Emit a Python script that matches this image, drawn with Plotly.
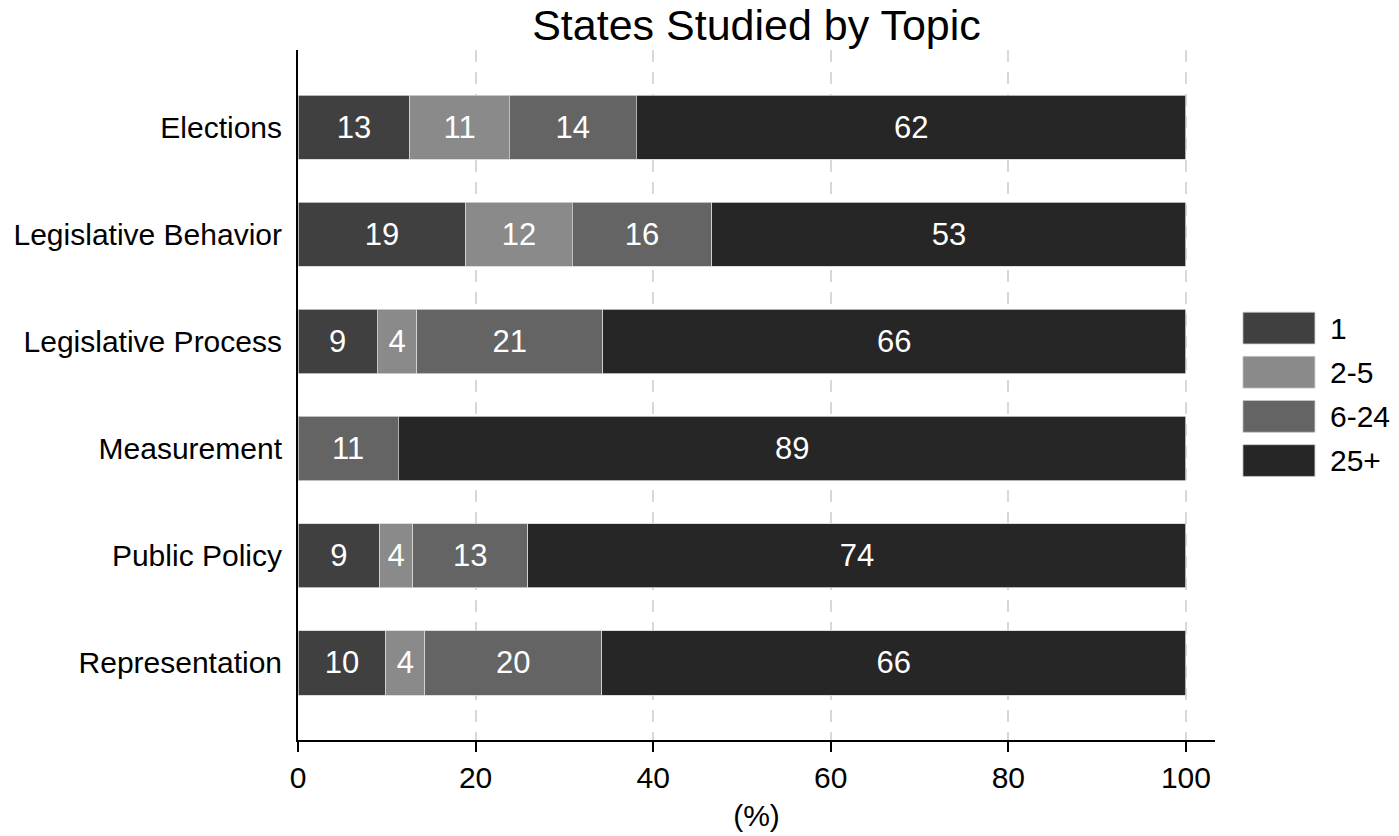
import plotly.graph_objects as go

topics = ["Elections", "Legislative Behavior", "Legislative Process",
          "Measurement", "Public Policy", "Representation"]
groups = ["1", "2-5", "6-24", "25+"]
vals_1 = [12.6, 18.9, 8.9, 0.0, 9.2, 9.9]
vals_2_5 = [11.2, 12.0, 4.5, 0.0, 3.7, 4.4]
vals_6_24 = [14.3, 15.7, 20.9, 11.3, 13.0, 19.9]
vals_25 = [61.9, 53.4, 65.7, 88.7, 74.1, 65.8]
colors = ["#404040", "#8a8a8a", "#646464", "#262626"]
xticks = [0, 20, 40, 60, 80, 100]

series = [vals_1, vals_2_5, vals_6_24, vals_25]
FONT = "Liberation Sans, Arial, Helvetica, sans-serif"

fig = go.Figure()
for name, vals, col in zip(groups, series, colors):
    fig.add_trace(go.Bar(
        y=topics, x=vals, name=name, orientation="h",
        marker=dict(color=col, line=dict(width=0.8, color="#d4d4d4")),
        width=0.6,
        text=[f"{v:.0f}" if v > 0 else "" for v in vals],
        textposition="inside", insidetextanchor="middle", textangle=0,
        textfont=dict(color="white", size=31, family=FONT),
        showlegend=False,
    ))

# legend drawn as shapes + annotations (paper coords)
leg_y0 = 0.597
leg_step = 0.064
for i, (name, col) in enumerate(zip(groups, colors)):
    yc = leg_y0 - i * leg_step
    fig.add_shape(type="rect", xref="paper", yref="paper",
                  x0=1.0305, x1=1.109, y0=yc - 0.023, y1=yc + 0.023,
                  fillcolor=col, line=dict(width=0.8, color="#c8c8c8"))
    fig.add_annotation(xref="paper", yref="paper", x=1.123, y=yc,
                       text=name, showarrow=False, xanchor="left", yanchor="middle",
                       font=dict(size=30, color="black", family=FONT))

fig.update_layout(
    barmode="stack",
    width=1399, height=836,
    margin=dict(l=298, r=184, t=50, b=96, autoexpand=False),
    paper_bgcolor="white", plot_bgcolor="white",
    font=dict(family=FONT, color="black"),
    title=dict(text="States Studied by Topic", x=(298 + 1215) / 2 / 1399, xanchor="center",
               y=1 - 25 / 836, yanchor="middle", font=dict(size=43, color="black")),
)
fig.update_xaxes(
    range=[0, 103.27], tickvals=xticks, ticktext=[str(t) for t in xticks],
    showgrid=True, gridcolor="#d8d8d8", griddash="12px,10px", gridwidth=2,
    showline=True, linecolor="black", linewidth=2,
    ticks="outside", ticklen=10, tickwidth=2, tickcolor="black",
    tickfont=dict(size=30), zeroline=False, automargin=False,
    title=dict(text="(%)", font=dict(size=30), standoff=12),
)
fig.update_yaxes(
    categoryorder="array", categoryarray=topics,
    autorange=False, range=[5.72, -0.72],
    showline=True, linecolor="black", linewidth=2,
    ticks="outside", ticklen=8, tickcolor="rgba(0,0,0,0)",
    tickfont=dict(size=30), showgrid=False, zeroline=False, automargin=False,
)

fig.write_html("out.html")
